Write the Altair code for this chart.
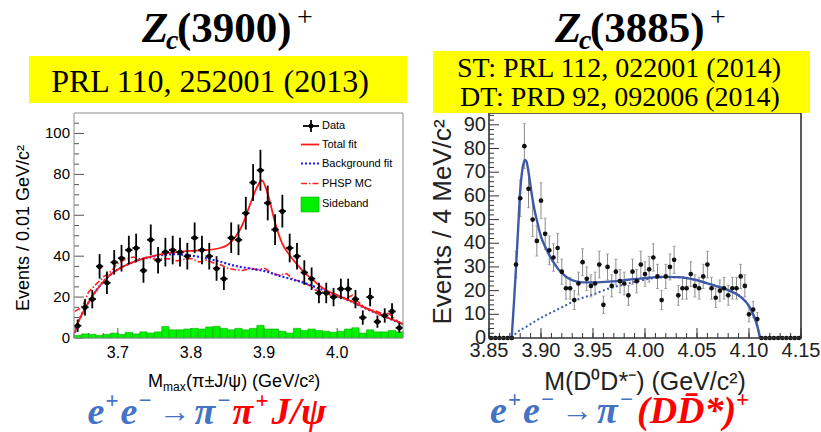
import altair as alt
import pandas as pd

# ===================== Zc(3900) panel : M_max(pi J/psi), 0.01 GeV bins =====================
jpsi_mass = [3.645, 3.655, 3.665, 3.675, 3.685, 3.695, 3.705, 3.715, 3.725, 3.735,
             3.745, 3.755, 3.765, 3.775, 3.785, 3.795, 3.805, 3.815, 3.825, 3.835,
             3.845, 3.855, 3.865, 3.875, 3.885, 3.895, 3.905, 3.915, 3.925, 3.935,
             3.945, 3.955, 3.965, 3.975, 3.985, 3.995, 4.005, 4.015, 4.025, 4.035,
             4.045, 4.055, 4.065, 4.075, 4.085]
jpsi_counts = [6, 15, 19, 35, 27, 37, 39, 43, 44, 33,
               48, 38, 42, 43, 42, 40, 49, 43, 40, 34,
               29, 49, 48, 61, 76, 82, 66, 53, 62, 44,
               40, 32, 29, 22, 22, 20, 24, 24, 19, 10,
               20, 8, 11, 13, 5]
jpsi_err = [3, 4, 4.5, 6, 5.5, 6, 6.5, 7, 7, 6,
            7.5, 6.5, 7, 7, 7, 6.5, 7.5, 7, 6.5, 6,
            5.5, 7.5, 7.5, 8, 9, 10, 8.5, 7.5, 8, 7,
            6.5, 6, 5.5, 5, 5, 4.5, 5, 5, 4.5, 3.5,
            4.5, 3, 3.5, 4, 2.5]
sideband_counts = [1.3, 2, 1.8, 1.3, 1.8, 2.4, 1.8, 2.8, 2, 3,
                   2.4, 3, 5.6, 4, 4, 4.4, 4.7, 4.4, 5.4, 5.7,
                   4.7, 4, 4.7, 4, 4.7, 6.2, 4.4, 4.4, 3.3, 2.4,
                   4.7, 3.7, 4.4, 3.7, 3.3, 2.8, 3.3, 4.4, 5, 2.4,
                   4, 3, 3, 3.7, 3]

total_x = [3.641, 3.645, 3.65, 3.66, 3.67, 3.68, 3.69, 3.70, 3.72, 3.74, 3.76, 3.78,
           3.80, 3.82, 3.84, 3.85, 3.86, 3.87, 3.88, 3.89, 3.897, 3.905, 3.915, 3.925,
           3.935, 3.945, 3.955, 3.965, 3.975, 3.985, 4.00, 4.02, 4.04, 4.06, 4.08, 4.09]
total_y = [2.5, 7, 11, 17.5, 23, 27.5, 31, 33.5, 37, 39.3, 41, 42,
           42.6, 43, 44, 45.5, 49, 55, 64.5, 73.5, 77, 70.5, 56.5, 46,
           40.5, 36, 32, 29, 25.8, 23.3, 21, 17.9, 14.5, 11.3, 8.3, 6.9]
bkg_x = [3.641, 3.645, 3.65, 3.66, 3.67, 3.68, 3.69, 3.70, 3.72, 3.74, 3.76, 3.78,
         3.80, 3.82, 3.84, 3.86, 3.88, 3.90, 3.92, 3.94, 3.96, 3.98, 4.00, 4.02,
         4.04, 4.06, 4.08, 4.09]
bkg_y = [2.5, 7, 11, 17.5, 23, 27.5, 31, 33.5, 37, 39.2, 40.5, 41,
         40.3, 39, 37.3, 35.3, 34, 32.8, 30.5, 28.5, 26.3, 23.5, 20.8, 17.7,
         14.3, 11.2, 8.2, 6.8]
phsp_x = [3.641, 3.651, 3.66, 3.671, 3.681, 3.691, 3.701, 3.711, 3.721, 3.731,
          3.741, 3.751, 3.761, 3.771, 3.781, 3.791, 3.801, 3.811, 3.821, 3.831,
          3.841, 3.851, 3.861, 3.871, 3.881, 3.891, 3.901, 3.911, 3.921, 3.931,
          3.941, 3.951, 3.961, 3.971, 3.981, 3.991, 4.001, 4.011, 4.021, 4.031,
          4.041, 4.051, 4.061, 4.071, 4.081, 4.088]
phsp_y = [13, 15, 22.5, 26.6, 30, 32.6, 37, 38.5, 39.6, 38.5,
          39.6, 38.5, 38.8, 38.7, 37.7, 38.5, 38.8, 37.2, 38, 36.7,
          35.7, 34, 33.4, 33, 34, 33.4, 34, 31.5, 30.7, 31.5,
          28.2, 27.9, 25.8, 23.3, 22.5, 20.9, 20, 19.2, 20.9, 16.8,
          14.4, 13.5, 11.9, 11.9, 8.6, 7]

# ===================== Zc(3885) panel : M(D0 D*-), 4 MeV bins =====================
dd_mass = [3.852, 3.856, 3.860, 3.864, 3.868, 3.872, 3.876, 3.880, 3.884, 3.888,
           3.892, 3.896, 3.900, 3.904, 3.908, 3.912, 3.916, 3.920, 3.924, 3.928,
           3.932, 3.936, 3.940, 3.944, 3.948, 3.952, 3.956, 3.960, 3.964, 3.968,
           3.972, 3.976, 3.980, 3.984, 3.988, 3.992, 3.996, 4.000, 4.004, 4.008,
           4.012, 4.016, 4.020, 4.024, 4.028, 4.032, 4.036, 4.040, 4.044, 4.048,
           4.052, 4.056, 4.060, 4.064, 4.068, 4.072, 4.076, 4.080, 4.084, 4.088,
           4.092, 4.096, 4.100, 4.104, 4.108, 4.112, 4.116, 4.120, 4.124, 4.128,
           4.132, 4.136, 4.140, 4.144, 4.148]
dd_counts = [0, 0, 0, 0, 0, 0, 31, 59, 81, 63,
             50, 41, 58, 44, 37, 34, 38, 28, 21, 21,
             16, 23, 32, 25, 22, 23, 31, 14, 30, 22,
             28, 24, 23, 18, 28, 24, 31, 27, 29, 34,
             26, 16, 26, 30, 33, 18, 21, 21, 27, 22,
             21, 26, 31, 21, 17, 20, 21, 18, 21, 21,
             26, 22, 10, 12, 8, 0, 0, 0, 0, 0,
             0, 0, 0, 0, 0]
dd_err = [0, 0, 0, 0, 0, 0, 5.6, 7.7, 9.5, 8,
          7.1, 6.4, 7.6, 6.6, 6.1, 5.8, 6.2, 5.3, 4.6, 4.6,
          4, 4.8, 5.7, 5, 4.7, 4.8, 5.6, 3.7, 5.5, 4.7,
          5.3, 4.9, 4.8, 4.2, 5.3, 4.9, 5.6, 5.2, 5.4, 5.8,
          5.1, 4, 5.1, 5.5, 5.7, 4.2, 4.6, 4.6, 5.2, 4.7,
          4.6, 5.1, 5.6, 4.6, 4.1, 4.5, 4.6, 4.2, 4.6, 4.6,
          5.1, 4.7, 3.2, 3.5, 2.8, 0, 0, 0, 0, 0,
          0, 0, 0, 0, 0]
ddfit_x = [3.8718, 3.874, 3.876, 3.878, 3.880, 3.882, 3.8845, 3.886, 3.888, 3.890,
           3.892, 3.894, 3.896, 3.898, 3.900, 3.904, 3.908, 3.912, 3.916, 3.920,
           3.924, 3.928, 3.932, 3.936, 3.940, 3.952, 3.968, 3.984, 4.000, 4.016,
           4.032, 4.048, 4.064, 4.080, 4.092, 4.100, 4.104, 4.108, 4.1106]
ddfit_y = [0, 15, 30, 46, 62, 71, 75.2, 74.5, 70, 64,
           58.3, 53.5, 49.8, 46, 42.8, 38.5, 35, 32, 29.4, 27.5,
           25.9, 24.8, 24.1, 23.7, 23.5, 23.5, 23.9, 24.6, 25.3, 25.8,
           25.7, 24.6, 22.5, 20.2, 17.4, 13.5, 10, 5, 0]
ddbkg_x = [3.8718, 3.876, 3.886, 3.902, 3.918, 3.934, 3.950, 3.966, 3.982, 3.998,
           4.014, 4.032, 4.048, 4.064, 4.080, 4.092, 4.100, 4.104, 4.108, 4.1106]
ddbkg_y = [0, 2, 4.8, 9, 12.5, 16, 18.4, 21, 22.8, 24.5,
           25.5, 25.7, 24.6, 22.5, 20.2, 17.4, 13.5, 10, 5, 0]

# ===================== axis tick labels =====================
l_xlabels = [3.7, 3.8, 3.9, 4.0]
l_ylabels = [0, 20, 40, 60, 80, 100]
r_xlabels = [3.85, 3.90, 3.95, 4.00, 4.05, 4.10, 4.15]
r_ylabels = [0, 10, 20, 30, 40, 50, 60, 70, 80, 90]

W1, W2, H = 329, 312, 225
xs1 = alt.Scale(domain=[3.64, 4.09], nice=False, zero=False)
ys1 = alt.Scale(domain=[0, 110], nice=False)
xs2 = alt.Scale(domain=[3.85, 4.15], nice=False, zero=False)
ys2 = alt.Scale(domain=[0, 95], nice=False)

one = pd.DataFrame({"k": [0]})
SANS = "Liberation Sans"
SERIF = "Liberation Serif"
BLUE_EQ = "#4472C4"
RED_EQ = "#ff0000"


def txt(s, x, y, size, color="black", font=SANS, weight="normal", style="normal",
        align="left", baseline="alphabetic", angle=None):
    kw = dict(text=s, fontSize=size, color=color, font=font, fontWeight=weight,
              fontStyle=style, align=align, baseline=baseline)
    if angle is not None:
        kw["angle"] = angle
    return alt.Chart(one).mark_text(**kw).encode(x=alt.value(x), y=alt.value(y))


def box(x1, y1, x2, y2, fill, stroke=None, sw=1, fill_opacity=1):
    kw = dict(fill=fill, fillOpacity=fill_opacity)
    if stroke is not None:
        kw.update(stroke=stroke, strokeWidth=sw)
    return alt.Chart(one).mark_rect(**kw).encode(
        x=alt.value(x1), x2=alt.value(x2), y=alt.value(y1), y2=alt.value(y2))


def hrule(x1, x2, y, color, width, dash=None):
    kw = dict(color=color, strokeWidth=width)
    if dash is not None:
        kw["strokeDash"] = dash
    return alt.Chart(one).mark_rule(**kw).encode(x=alt.value(x1), x2=alt.value(x2), y=alt.value(y))


def vrule(x, y1, y2, color, width):
    return alt.Chart(one).mark_rule(color=color, strokeWidth=width).encode(
        x=alt.value(x), y=alt.value(y1), y2=alt.value(y2))


def yticks(vals, ys, length, color):
    return alt.Chart(pd.DataFrame({"v": vals})).mark_rule(color=color, strokeWidth=1).encode(
        y=alt.Y("v:Q", scale=ys, axis=None), x=alt.value(0), x2=alt.value(length))


def xticks(vals, xs, length, color):
    return alt.Chart(pd.DataFrame({"v": vals})).mark_rule(color=color, strokeWidth=1).encode(
        x=alt.X("v:Q", scale=xs, axis=None), y=alt.value(H), y2=alt.value(H - length))


def ylabels(vals, ys, xpos, size, color):
    return alt.Chart(pd.DataFrame({"v": vals})).mark_text(
        align="right", baseline="middle", fontSize=size, font=SANS, color=color).encode(
        y=alt.Y("v:Q", scale=ys, axis=None), x=alt.value(xpos), text=alt.Text("v:Q", format="d"))


def xlabels(vals, xs, ypos, size, color, fmt):
    return alt.Chart(pd.DataFrame({"v": vals})).mark_text(
        align="center", baseline="top", fontSize=size, font=SANS, color=color).encode(
        x=alt.X("v:Q", scale=xs, axis=None), y=alt.value(ypos), text=alt.Text("v:Q", format=fmt))


def title_pieces(x0, label):
    return [
        txt("Z", x0, -71, 43, font=SERIF, weight="bold", style="italic"),
        txt("c", x0 + 24, -64, 28, font=SERIF, weight="bold", style="italic"),
        txt(label, x0 + 35, -71, 43, font=SERIF, weight="bold"),
        txt("+", x0 + 155, -87, 28, font=SERIF),
    ]


def eq_pieces(items, base):
    out = []
    for s, x, kind, color in items:
        if kind == "main":
            out.append(txt(s, x, base, 38, color=color, font=SERIF, weight="bold", style="italic"))
        elif kind == "sup":
            out.append(txt(s, x, base - 16, 23, color=color, font=SERIF, weight="bold"))
        else:
            out.append(txt(s, x, base - 2, 32, color=color, font=SERIF))
    return out


# ===================== left panel =====================
d1 = pd.DataFrame({"x": jpsi_mass, "y": jpsi_counts, "e": jpsi_err, "sb": sideband_counts})
d1["lo"] = d1["y"] - d1["e"]
d1["hi"] = d1["y"] + d1["e"]
d1["xl"] = d1["x"] - 0.005
d1["xr"] = d1["x"] + 0.005
d1["zero"] = 0

l_ymin = [v for v in range(0, 110, 5) if v % 20]
l_xmin = [round(3.64 + 0.02 * i, 2) for i in range(23)]

sideband = alt.Chart(d1).mark_rect(fill="#00f000", stroke="#00b000", strokeWidth=0.6).encode(
    x=alt.X("xl:Q", scale=xs1, axis=None), x2="xr:Q",
    y=alt.Y("sb:Q", scale=ys1, axis=None), y2="zero:Q")
phsp = alt.Chart(pd.DataFrame({"x": phsp_x, "y": phsp_y})).mark_line(
    color="#ff2020", strokeWidth=1.6, strokeDash=[6, 2, 1.5, 2]).encode(
    x=alt.X("x:Q", scale=xs1, axis=None), y=alt.Y("y:Q", scale=ys1, axis=None))
bkg = alt.Chart(pd.DataFrame({"x": bkg_x, "y": bkg_y})).mark_line(
    color="#1a1aff", strokeWidth=2.2, strokeDash=[2, 2], interpolate="monotone").encode(
    x=alt.X("x:Q", scale=xs1, axis=None), y=alt.Y("y:Q", scale=ys1, axis=None))
tot = alt.Chart(pd.DataFrame({"x": total_x, "y": total_y})).mark_line(
    color="#ff1a1a", strokeWidth=1.8, interpolate="monotone").encode(
    x=alt.X("x:Q", scale=xs1, axis=None), y=alt.Y("y:Q", scale=ys1, axis=None))
xerr1 = alt.Chart(d1).mark_rule(color="black", strokeWidth=1.8).encode(
    x=alt.X("xl:Q", scale=xs1, axis=None), x2="xr:Q", y=alt.Y("y:Q", scale=ys1, axis=None))
yerr1 = alt.Chart(d1).mark_rule(color="black", strokeWidth=1.8).encode(
    x=alt.X("x:Q", scale=xs1, axis=None), y=alt.Y("lo:Q", scale=ys1, axis=None), y2="hi:Q")
pts1 = alt.Chart(d1).mark_circle(color="black", size=26, opacity=1).encode(
    x=alt.X("x:Q", scale=xs1, axis=None), y=alt.Y("y:Q", scale=ys1, axis=None))

left_layers = [
    box(-74, -113, -73, -112, "#ffffff"),  # canvas anchor (top-left corner)
    yticks(l_ylabels, ys1, 10, "#555555"),
    yticks(l_ymin, ys1, 5, "#555555"),
    xticks(l_xlabels, xs1, 10, "#555555"),
    xticks(l_xmin, xs1, 5, "#555555"),
    ylabels(l_ylabels, ys1, -4, 15, "black"),
    xlabels(l_xlabels, xs1, 232, 16, "black", ".1f"),
    sideband, phsp, bkg, tot, xerr1, yerr1, pts1,
    box(0, 0, W1, H, "#ffffff", stroke="#8c8c8c", sw=1, fill_opacity=0),
    # legend
    hrule(229, 245, 13, "black", 1.8), vrule(237, 7, 19, "black", 1.8),
    alt.Chart(one).mark_circle(color="black", size=24, opacity=1).encode(x=alt.value(237), y=alt.value(13)),
    txt("Data", 248, 13, 11, baseline="middle"),
    hrule(227, 245, 31.5, "#ff1a1a", 1.8), txt("Total fit", 248, 31.5, 11, baseline="middle"),
    hrule(227, 245, 50.5, "#1a1aff", 2.2, [2, 2]), txt("Background fit", 248, 50.5, 11, baseline="middle"),
    hrule(227, 245, 70.5, "#ff2020", 1.6, [6, 2, 1.5, 2]), txt("PHSP MC", 248, 70.5, 11, baseline="middle"),
    box(227, 84, 245, 99, "#00f000", stroke="#00b000", sw=0.6), txt("Sideband", 248, 91, 11, baseline="middle"),
    # headings
    box(-45, -57, 333, -10, "#ffff00"),
    txt("PRL 110, 252001 (2013)", 136, -21, 32, font=SERIF, align="center"),
    *title_pieces(68, "(3900)"),
    # axis titles
    txt("Events / 0.01 GeV/c²", -50, 115, 18, align="center", baseline="middle", angle=270),
    txt("M", 74, 274, 18),
    txt("max", 89, 278, 12),
    txt("(π±J/ψ) (GeV/c²)", 112, 274, 18),
    # reaction
    *eq_pieces([
        ("e", 13.5, "main", BLUE_EQ), ("+", 31.5, "sup", BLUE_EQ), ("e", 46.5, "main", BLUE_EQ),
        ("−", 64.5, "sup", BLUE_EQ), ("→", 84.5, "arrow", BLUE_EQ), ("π", 120.5, "main", BLUE_EQ),
        ("−", 143.5, "sup", BLUE_EQ), ("π", 158.5, "main", RED_EQ), ("+", 181.5, "sup", RED_EQ),
        ("J/ψ", 197.5, "main", RED_EQ),
    ], 311),
]
left = alt.layer(*left_layers).properties(width=W1, height=H)

# ===================== right panel =====================
d2 = pd.DataFrame({"x": dd_mass, "y": dd_counts, "e": dd_err})
d2["lo"] = d2["y"] - d2["e"]
d2["hi"] = d2["y"] + d2["e"]

r_ymin = [v for v in range(0, 96, 2) if v % 10]
r_xmin = [round(3.85 + 0.01 * i, 2) for i in range(31)]

yerr2 = alt.Chart(d2).mark_rule(color="#8a8a8a", strokeWidth=1).encode(
    x=alt.X("x:Q", scale=xs2, axis=None), y=alt.Y("lo:Q", scale=ys2, axis=None), y2="hi:Q")
caps_hi = alt.Chart(d2[d2["e"] > 0]).mark_tick(color="#8a8a8a", orient="horizontal", size=3, thickness=1).encode(
    x=alt.X("x:Q", scale=xs2, axis=None), y=alt.Y("hi:Q", scale=ys2, axis=None))
caps_lo = alt.Chart(d2[d2["e"] > 0]).mark_tick(color="#8a8a8a", orient="horizontal", size=3, thickness=1).encode(
    x=alt.X("x:Q", scale=xs2, axis=None), y=alt.Y("lo:Q", scale=ys2, axis=None))
fit2 = alt.Chart(pd.DataFrame({"x": ddfit_x, "y": ddfit_y})).mark_line(
    color="#3d5aa9", strokeWidth=2.4, interpolate="monotone").encode(
    x=alt.X("x:Q", scale=xs2, axis=None), y=alt.Y("y:Q", scale=ys2, axis=None))
bkg2 = alt.Chart(pd.DataFrame({"x": ddbkg_x, "y": ddbkg_y})).mark_line(
    color="#3d5aa9", strokeWidth=2, strokeDash=[2, 2.5], interpolate="monotone").encode(
    x=alt.X("x:Q", scale=xs2, axis=None), y=alt.Y("y:Q", scale=ys2, axis=None))
pts2 = alt.Chart(d2).mark_circle(color="#111111", size=22, opacity=1).encode(
    x=alt.X("x:Q", scale=xs2, axis=None), y=alt.Y("y:Q", scale=ys2, axis=None))

right_layers = [
    yticks(r_ylabels, ys2, 10, "#333333"),
    yticks(r_ymin, ys2, 5, "#333333"),
    xticks(r_xlabels, xs2, 10, "#333333"),
    xticks(r_xmin, xs2, 5, "#333333"),
    ylabels(r_ylabels, ys2, -3, 20, "#222222"),
    xlabels(r_xlabels, xs2, 228, 20, "#222222", ".2f"),
    bkg2, yerr2, caps_hi, caps_lo, fit2, pts2,
    box(0, 0, W2, H, "#ffffff", stroke="#333333", sw=1.6, fill_opacity=0),
    box(-56, -62, 321, 0, "#ffff00"),
    txt("ST: PRL 112, 022001 (2014)", 130, -36, 28, font=SERIF, align="center"),
    txt("DT: PRD 92, 092006 (2014)", 131, -7, 28, font=SERIF, align="center"),
    *title_pieces(66, "(3885)"),
    txt("Events / 4 MeV/c²", -46, 109, 26, color="#222222", align="center", baseline="middle", angle=270),
    txt("M(D⁰D*⁻) (GeV/c²)", 156, 277, 25, color="#222222", align="center"),
    *eq_pieces([
        ("e", 1, "main", BLUE_EQ), ("+", 19, "sup", BLUE_EQ), ("e", 34, "main", BLUE_EQ),
        ("−", 52, "sup", BLUE_EQ), ("→", 72, "arrow", BLUE_EQ), ("π", 108, "main", BLUE_EQ),
        ("−", 131, "sup", BLUE_EQ), ("(DD̄*)", 148, "main", RED_EQ), ("+", 247, "sup", RED_EQ),
    ], 310),
]
right = alt.layer(*right_layers).properties(width=W2, height=H)

chart = alt.hconcat(left, right, spacing=86, bounds="flush").properties(
    padding={"left": 0, "top": 0, "right": 0, "bottom": 0}
).configure_view(stroke=None)

chart.save("out.html", embed_options={"renderer": "svg", "actions": False})
